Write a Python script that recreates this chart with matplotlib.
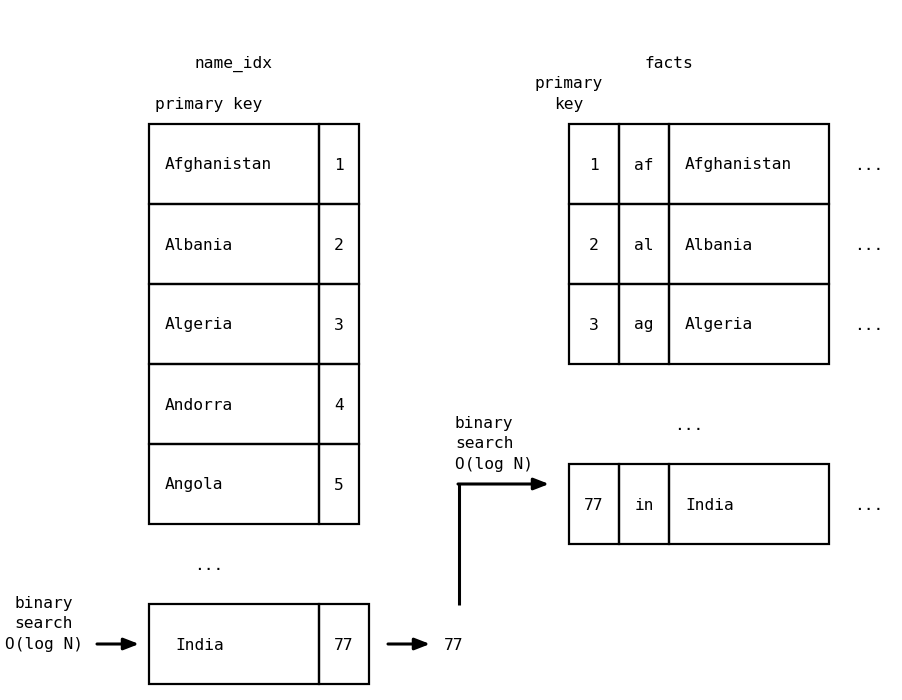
import matplotlib.pyplot as plt
from matplotlib.patches import Rectangle

# table contents
idx_names = ['Afghanistan', 'Albania', 'Algeria', 'Andorra', 'Angola']
idx_ids = ['1', '2', '3', '4', '5']
fact_ids = ['1', '2', '3']
fact_codes = ['af', 'al', 'ag']
fact_names = ['Afghanistan', 'Albania', 'Algeria']
found_name = 'India'
found_id = '77'
found_code = 'in'
search_label = 'binary\nsearch\nO(log N)'

FONT = 'DejaVu Sans Mono'
FS = 11.7
LW = 1.6

fig = plt.figure(figsize=(9.02, 7.0), dpi=100)
ax = fig.add_axes([0, 0, 1, 1])
ax.set_xlim(0, 902)
ax.set_ylim(700, 0)
ax.axis('off')


def txt(x, y, s, ha='center', va='center', **kw):
    ax.text(x, y, s, ha=ha, va=va, fontsize=FS, family=FONT,
            color='black', linespacing=1.42, **kw)


def row(cols, top, h, cells, pad=16):
    # cols: list of x edges, cells: list of (text, align)
    for x0, x1, (s, al) in zip(cols[:-1], cols[1:], cells):
        ax.add_patch(Rectangle((x0, top), x1 - x0, h, fill=False,
                               lw=LW, ec='black'))
        if al == 'left':
            txt(x0 + pad, top + h / 2 + 1, s, ha='left')
        else:
            txt((x0 + x1) / 2, top + h / 2 + 1, s)


def arrow(x0, y0, x1, y1):
    ax.annotate('', xy=(x1, y1), xytext=(x0, y0),
                arrowprops=dict(arrowstyle='-|>,head_length=0.9,head_width=0.35',
                                lw=2.2, color='black', shrinkA=0, shrinkB=0))


# left index table
lcols = [149, 319, 359]
rh = 80
txt(234, 64, 'name_idx')
txt(155, 104, 'primary key', ha='left')
for i, (n, k) in enumerate(zip(idx_names, idx_ids)):
    row(lcols, 124 + i * rh, rh, [(n, 'left'), (k, 'center')])
txt(209, 565, '...')
row([149, 319, 369], 604, rh, [(found_name, 'left'), (found_id, 'center')],
    pad=26)

# right facts table
rcols = [569, 619, 669, 829]
txt(669, 64, 'facts')
txt(569, 94, 'primary\nkey')
for i, (k, c, n) in enumerate(zip(fact_ids, fact_codes, fact_names)):
    row(rcols, 124 + i * rh, rh, [(k, 'center'), (c, 'center'), (n, 'left')])
    txt(869, 165 + i * rh, '...')
txt(689, 425, '...')
row(rcols, 464, rh, [(found_id, 'center'), (found_code, 'center'),
                     (found_name, 'left')])
txt(869, 505, '...')

# search arrows
txt(44, 624, search_label)
arrow(97, 644, 139, 644)
arrow(388, 644, 430, 644)
txt(454, 645, found_id)
ax.plot([459, 459], [605, 484], color='black', lw=2.2, solid_capstyle='butt')
arrow(458, 484, 549, 484)
txt(455, 444, search_label, ha='left')

plt.savefig('out.png', dpi=100)
